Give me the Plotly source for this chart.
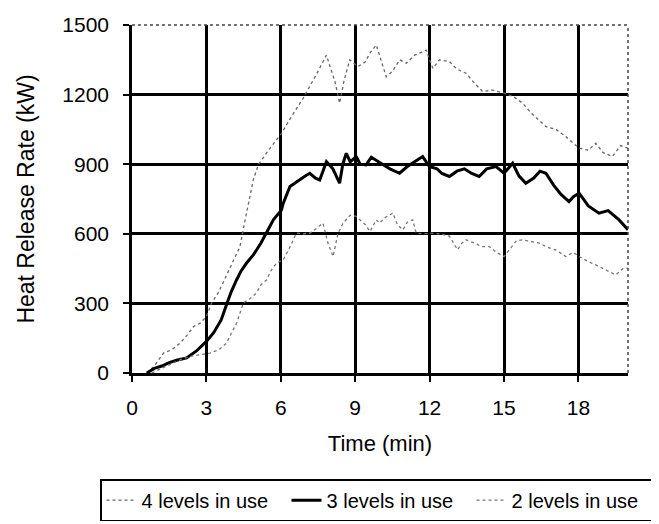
import plotly.graph_objects as go

# Time (min) and heat release rate (kW)
t4 = [0.6, 0.9, 1.27, 1.6, 1.94, 2.2, 2.48, 2.75, 3.0, 3.2, 3.5, 3.8, 4.1, 4.35, 4.6, 4.89, 5.09, 5.5, 6.03,
      6.4, 6.9, 7.2, 7.5, 7.84, 8.04, 8.2, 8.37, 8.55, 8.78, 9.11, 9.4, 9.6, 9.85, 10.0, 10.25, 10.5, 10.8,
      11.06, 11.4, 11.86, 12.13, 12.4, 12.8, 13.1, 13.47, 13.8, 14.14, 14.5, 15.01, 15.4, 15.75, 16.1, 16.4,
      16.69, 17.1, 17.49, 18.03, 18.4, 18.7, 19.0, 19.37, 19.7, 20.0]
hrr4 = [0, 30, 86, 100, 129, 160, 200, 215, 243, 300, 350, 420, 490, 544, 680, 832, 897, 960, 1033,
        1100, 1184, 1240, 1300, 1370, 1306, 1250, 1163, 1260, 1350, 1321, 1340, 1380, 1414, 1364, 1277, 1300, 1350,
        1335, 1370, 1392, 1313, 1350, 1342, 1310, 1292, 1250, 1213, 1220, 1206, 1190, 1163, 1120, 1090,
        1062, 1050, 1019, 969, 960, 990, 950, 933, 980, 969]

t3 = [0.6, 0.9, 1.2, 1.5, 1.8, 2.2, 2.6, 3.0, 3.3, 3.6, 3.81, 4.0, 4.22, 4.4, 4.62, 4.9, 5.2, 5.42, 5.7, 6.03,
      6.1, 6.37, 6.7, 7.0, 7.17, 7.4, 7.57, 7.84, 8.1, 8.37, 8.5, 8.64, 8.8, 9.04, 9.2, 9.44, 9.65, 9.85, 10.1,
      10.4, 10.79, 11.1, 11.4, 11.72, 11.99, 12.3, 12.5, 12.8, 13.1, 13.4, 13.7, 14.0, 14.3, 14.68, 15.0, 15.35,
      15.6, 15.88, 16.2, 16.45, 16.69, 17.0, 17.3, 17.62, 17.8, 18.03, 18.4, 18.83, 19.2, 19.64, 20.0]
hrr3 = [0, 20, 30, 45, 55, 65, 95, 136, 175, 230, 294, 350, 402, 440, 474, 510, 560, 603, 660, 703,
        732, 804, 830, 850, 861, 840, 832, 911, 880, 818, 900, 947, 910, 933, 900, 897, 930, 918, 900,
        880, 861, 890, 910, 933, 890, 880, 860, 847, 870, 880, 860, 847, 880, 890, 861, 904,
        850, 818, 840, 870, 861, 810, 770, 739, 760, 775, 720, 689, 700, 660, 617]

t2 = [0.8, 1.2, 1.6, 2.0, 2.35, 2.8, 3.15, 3.5, 3.81, 4.0, 4.22, 4.49, 4.75, 5.02, 5.2, 5.43, 5.6, 5.83, 6.1,
      6.4, 6.63, 6.9, 7.17, 7.4, 7.7, 7.9, 8.11, 8.3, 8.51, 8.8, 9.04, 9.4, 9.6, 9.85, 9.98, 10.2, 10.52, 10.7,
      10.92, 11.1, 11.32, 11.46, 11.8, 12.0, 12.4, 12.8, 13.13, 13.3, 13.47, 13.8, 14.1, 14.41, 14.7, 15.0,
      15.3, 15.5, 15.75, 16.1, 16.42, 16.8, 17.1, 17.49, 17.8, 18.03, 18.4, 18.7, 19.0, 19.2, 19.5, 19.8, 20.0]
hrr2 = [0, 20, 40, 60, 72, 80, 86, 100, 129, 170, 215, 302, 320, 345, 380, 402, 440, 474, 488,
        550, 603, 600, 603, 620, 646, 560, 502, 600, 646, 680, 675, 640, 610, 660, 646, 670, 689, 640,
        617, 650, 660, 603, 600, 603, 600, 590, 531, 560, 574, 560, 545, 545, 520, 502,
        540, 570, 574, 565, 560, 540, 530, 502, 520, 502, 480, 466, 450, 440, 423, 450, 452]

x_ticks = [0, 3, 6, 9, 12, 15, 18]
y_ticks = [0, 300, 600, 900, 1200, 1500]
names = ["4 levels in use", "3 levels in use", "2 levels in use"]

fig = go.Figure()
fig.add_trace(go.Scatter(x=t4, y=hrr4, mode="lines", name=names[0],
                         line=dict(color="#666666", width=1.3, dash="dot")))
fig.add_trace(go.Scatter(x=t3, y=hrr3, mode="lines", name=names[1],
                         line=dict(color="black", width=3)))
fig.add_trace(go.Scatter(x=t2, y=hrr2, mode="lines", name=names[2],
                         line=dict(color="#777777", width=1.3, dash="dot")))

font = "Liberation Sans, Arial, sans-serif"
fig.update_layout(
    width=651, height=516,
    margin=dict(l=124, r=31, t=17, b=151, autoexpand=False),
    paper_bgcolor="white", plot_bgcolor="white",
    font=dict(family=font, size=21, color="black"),
    showlegend=True,
    legend=dict(orientation="h", x=-0.0645, xanchor="left", y=-0.305, yanchor="top",
                bordercolor="black", borderwidth=1.5, font=dict(size=20),
                itemwidth=30, tracegroupgap=0, entrywidth=140, entrywidthmode="pixels"),
    xaxis=dict(range=[0, 20], tickvals=x_ticks, showgrid=True, gridcolor="black", gridwidth=2.5,
               showline=True, linecolor="black", linewidth=2.5, ticks="outside", ticklen=6,
               tickwidth=2, tickcolor="black", zeroline=True, zerolinecolor="black",
               zerolinewidth=2.5, ticklabelstandoff=8,
               title=dict(text="Time (min)", font=dict(size=22), standoff=18)),
    yaxis=dict(range=[0, 1500], tickvals=y_ticks, showgrid=True, gridcolor="black", gridwidth=2.5,
               showline=True, linecolor="black", linewidth=2.5, ticks="outside", ticklen=6,
               tickwidth=2, tickcolor="black", zeroline=True, zerolinecolor="black",
               zerolinewidth=2.5, ticklabelstandoff=10,
               title=dict(text="Heat Release Rate (kW)", font=dict(size=23), standoff=22)),
)
# dotted top and right frame edges
fig.add_shape(type="line", xref="paper", yref="paper", x0=0, x1=1, y0=1, y1=1,
              line=dict(color="#444444", width=1.5, dash="dot"))
fig.add_shape(type="line", xref="paper", yref="paper", x0=1, x1=1, y0=0, y1=1,
              line=dict(color="#444444", width=1.5, dash="dot"))

fig.write_html("out.html")
